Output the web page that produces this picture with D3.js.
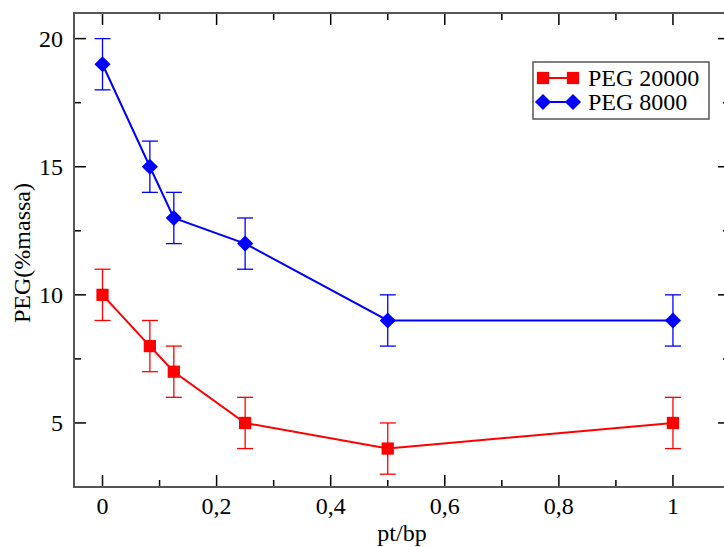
<!DOCTYPE html>
<html>
<head>
<meta charset="utf-8">
<script src="https://cdn.jsdelivr.net/npm/d3@7"></script>
<style>
  body { margin: 0; background: #fff; }
</style>
</head>
<body>
<div id="chart"></div>
<script>
// data
var ratio = [0, 0.083, 0.125, 0.25, 0.5, 1];
var peg20000 = [10, 8, 7, 5, 4, 5];
var peg8000 = [19, 15, 13, 12, 9, 9];
var err20000 = [1, 1, 1, 1, 1, 1];
var err8000 = [1, 1, 1, 1, 1, 1];
var xTicks = [0, 0.2, 0.4, 0.6, 0.8, 1];
var yTicks = [5, 10, 15, 20];
var seriesNames = ["PEG 20000", "PEG 8000"];

var series = [
    { name: seriesNames[0], values: peg20000, err: err20000, color: "#ff0000", rot: 0, size: 150 },
    { name: seriesNames[1], values: peg8000, err: err8000, color: "#0000ff", rot: 45, size: 130 }
];

var margin = {top: 13, right: -6, bottom: 60, left: 74},
    W = 724, H = 547,
    width = W - margin.left - margin.right,
    height = H - margin.top - margin.bottom;

var svg = d3.select("#chart").append("svg")
    .attr("width", W)
    .attr("height", H)
    .attr("font-family", "Liberation Serif")
    .attr("font-size", 24);

var g = svg.append("g")
    .attr("transform", "translate(" + margin.left + "," + margin.top + ")");

var x = d3.scaleLinear().domain([-0.05, 1.1]).range([0, width]);
var y = d3.scaleLinear().domain([2.5, 21]).range([height, 0]);

var fmt = function (d) { return String(d).replace(".", ","); };

// ticks, inward, on all four sides
var xMinor = d3.range(0.1, 1.1, 0.2);
var yMinor = [2.5, 7.5, 12.5, 17.5];

function tickLines(cls, data, pos, len, horizontal, side) {
    g.selectAll("line." + cls).data(data).enter().append("line")
        .attr("class", cls)
        .attr("x1", function (d) { return horizontal ? pos(d) : side; })
        .attr("x2", function (d) { return horizontal ? pos(d) : side + len; })
        .attr("y1", function (d) { return horizontal ? side : pos(d); })
        .attr("y2", function (d) { return horizontal ? side + len : pos(d); })
        .attr("stroke", "#000")
        .attr("stroke-width", 1.5);
}
tickLines("xmaj-b", xTicks, x, -12, true, height);
tickLines("xmin-b", xMinor, x, -7, true, height);
tickLines("xmaj-t", xTicks, x, 12, true, 0);
tickLines("xmin-t", xMinor, x, 7, true, 0);
tickLines("ymaj-l", yTicks, y, 12, false, 0);
tickLines("ymin-l", yMinor, y, 7, false, 0);
tickLines("ymaj-r", yTicks, y, -12, false, width);
tickLines("ymin-r", yMinor, y, -7, false, width);

// frame
g.append("rect")
    .attr("width", width)
    .attr("height", height)
    .attr("fill", "none")
    .attr("stroke", "#555")
    .attr("stroke-width", 2);

// tick labels
g.selectAll("text.xl").data(xTicks).enter().append("text")
    .attr("class", "xl")
    .attr("x", function (d) { return x(d); })
    .attr("y", height + 27)
    .attr("text-anchor", "middle")
    .text(fmt);

g.selectAll("text.yl").data(yTicks).enter().append("text")
    .attr("class", "yl")
    .attr("x", -11)
    .attr("y", function (d) { return y(d) + 8; })
    .attr("text-anchor", "end")
    .text(fmt);

// axis titles
svg.append("text")
    .attr("x", 402)
    .attr("y", 541)
    .attr("text-anchor", "middle")
    .text("pt/bp");

svg.append("text")
    .attr("transform", "translate(30,253) rotate(-90)")
    .attr("text-anchor", "middle")
    .text("PEG(%massa)");

// series
var line = d3.line()
    .x(function (d) { return x(d[0]); })
    .y(function (d) { return y(d[1]); });

series.forEach(function (s) {
    var pts = ratio.map(function (r, i) { return [r, s.values[i], s.err[i]]; });
    var sg = g.append("g");

    var eb = sg.selectAll("g.err").data(pts).enter().append("g")
        .attr("class", "err")
        .attr("stroke", s.color)
        .attr("stroke-width", 1.3);
    eb.append("line")
        .attr("x1", function (d) { return x(d[0]); })
        .attr("x2", function (d) { return x(d[0]); })
        .attr("y1", function (d) { return y(d[1] - d[2]); })
        .attr("y2", function (d) { return y(d[1] + d[2]); });
    [-1, 1].forEach(function (sgn) {
        eb.append("line")
            .attr("x1", function (d) { return x(d[0]) - 8; })
            .attr("x2", function (d) { return x(d[0]) + 8; })
            .attr("y1", function (d) { return y(d[1] + sgn * d[2]); })
            .attr("y2", function (d) { return y(d[1] + sgn * d[2]); });
    });

    sg.append("path")
        .datum(pts)
        .attr("d", line)
        .attr("fill", "none")
        .attr("stroke", s.color)
        .attr("stroke-width", 2);

    sg.selectAll("path.sym").data(pts).enter().append("path")
        .attr("class", "sym")
        .attr("transform", function (d) { return "translate(" + x(d[0]) + "," + y(d[1]) + ") rotate(" + s.rot + ")"; })
        .attr("d", d3.symbol().type(d3.symbolSquare).size(s.size))
        .attr("fill", s.color);
});

// legend
var leg = svg.append("g").attr("transform", "translate(533,62)");
leg.append("rect")
    .attr("width", 176)
    .attr("height", 57)
    .attr("fill", "#fff")
    .attr("stroke", "#555")
    .attr("stroke-width", 1.5);

series.forEach(function (s, i) {
    var row = leg.append("g").attr("transform", "translate(0," + (16 + i * 24) + ")");
    row.append("line")
        .attr("x1", 10).attr("x2", 40)
        .attr("stroke", s.color).attr("stroke-width", 2);
    [10, 40].forEach(function (px) {
        row.append("path")
            .attr("transform", "translate(" + px + ",0) rotate(" + s.rot + ")")
            .attr("d", d3.symbol().type(d3.symbolSquare).size(s.size))
            .attr("fill", s.color);
    });
    row.append("text")
        .attr("x", 55)
        .attr("y", 8)
        .text(s.name);
});
</script>
</body>
</html>
